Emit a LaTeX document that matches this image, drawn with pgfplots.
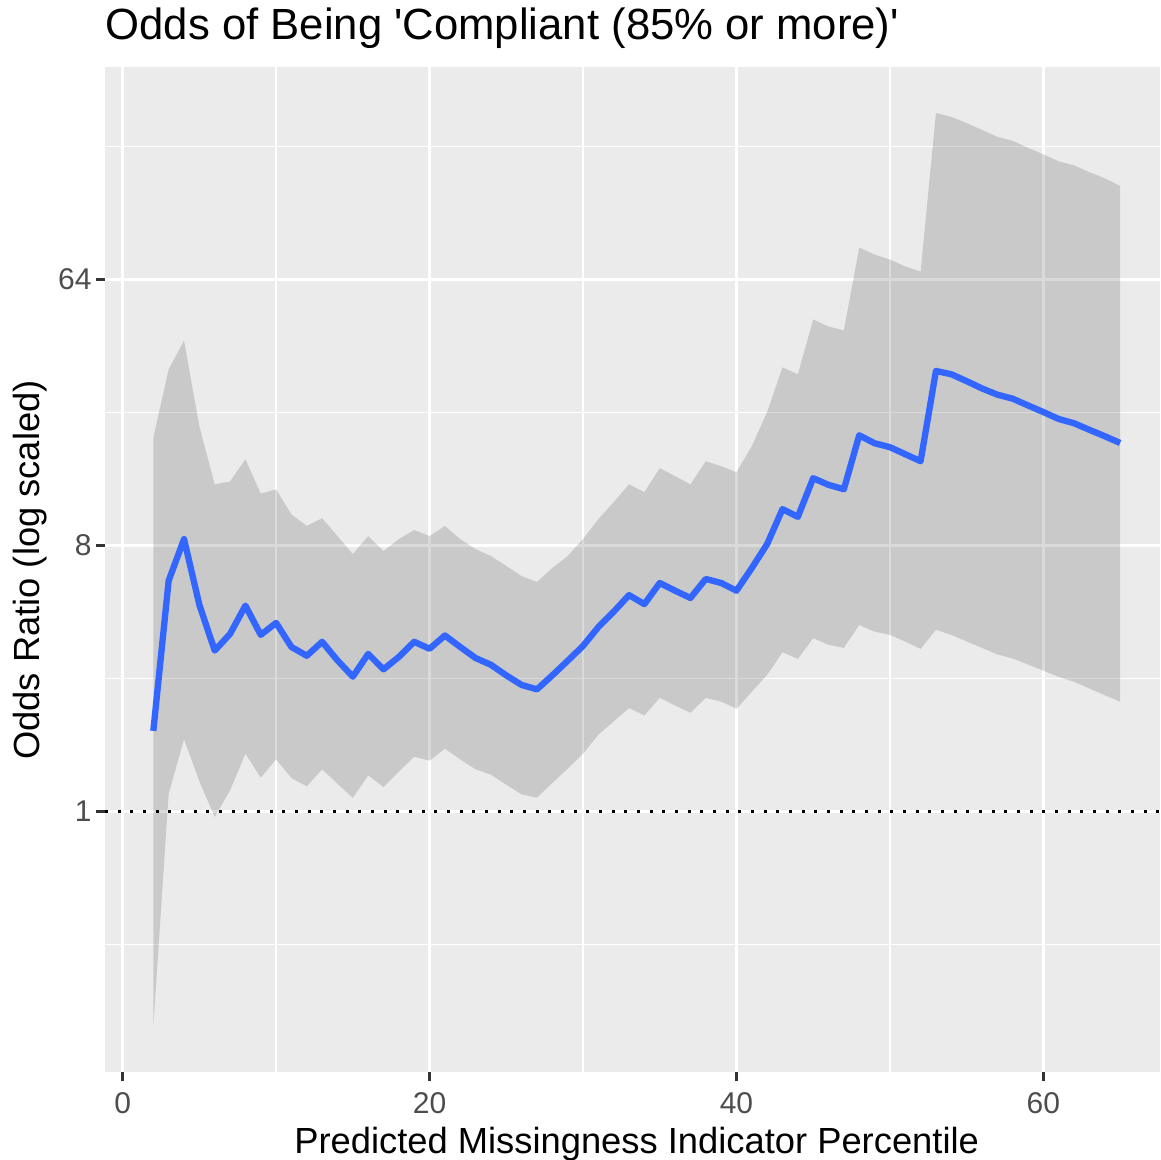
\documentclass[border=0pt]{standalone}
\usepackage{pgfplots}
\pgfplotsset{compat=1.18}
\usepackage{pgfplotstable}
\usepgfplotslibrary{fillbetween}
\usepackage{fontspec}
\setmainfont{Liberation Sans}[Ligatures=TeXOff]
\definecolor{panelbg}{RGB}{235,235,235}
\definecolor{ribbon}{RGB}{51,51,51}
\definecolor{lineblue}{RGB}{51,102,255}
\definecolor{tickcol}{RGB}{51,51,51}
\definecolor{ticklab}{RGB}{77,77,77}
\pgfplotstableread{
x lo est hi
2 0.187 1.88 18.6
3 1.151 6.08 31.7
4 1.758 8.41 39.7
5 1.267 5.03 20.3
6 0.959 3.52 12.9
7 1.181 4.01 13.2
8 1.572 5.00 15.7
9 1.304 3.98 12.0
10 1.504 4.37 12.4
11 1.300 3.62 10.2
12 1.218 3.38 9.32
13 1.391 3.77 9.90
14 1.244 3.26 8.61
15 1.113 2.87 7.48
16 1.328 3.43 8.61
17 1.212 3.04 7.66
18 1.366 3.35 8.41
19 1.536 3.77 9.03
20 1.489 3.57 8.61
21 1.635 3.96 9.32
22 1.504 3.62 8.41
23 1.391 3.32 7.78
24 1.335 3.15 7.37
25 1.234 2.90 6.82
26 1.144 2.69 6.30
27 1.115 2.60 6.02
28 1.251 2.90 6.71
29 1.398 3.25 7.37
30 1.572 3.65 8.41
31 1.824 4.23 9.83
32 2.023 4.77 11.23
33 2.246 5.43 12.9
34 2.120 5.06 12.14
35 2.434 5.97 14.64
36 2.291 5.62 13.75
37 2.165 5.31 12.9
38 2.43 6.16 15.46
39 2.364 5.97 14.87
40 2.233 5.62 14.19
41 2.550 6.71 17.38
42 2.912 8.09 22.7
43 3.475 10.63 32.2
44 3.30 10.01 30.5
45 3.877 13.54 46.8
46 3.680 12.85 44.3
47 3.595 12.42 43.0
48 4.30 18.93 82.1
49 4.08 17.79 77.7
50 3.98 17.25 74.8
51 3.776 16.33 70.8
52 3.567 15.46 68.1
53 4.14 31.3 235
54 3.98 30.5 228
55 3.78 28.9 217
56 3.595 27.3 206
57 3.417 26.0 195
58 3.309 25.2 189
59 3.156 23.9 179
60 3.008 22.7 170
61 2.866 21.5 161
62 2.757 20.8 156
63 2.617 19.76 148
64 2.485 18.8 141
65 2.359 17.83 133
}\ortable
\begin{document}
\begin{tikzpicture}
\begin{axis}[
  at={(0,0)}, anchor=south west,
  scale only axis,
  width=316.5pt, height=301.5pt,
  xmin=-1.15, xmax=67.6,
  ymode=log, log basis y=2,
  ymin=0.1307, ymax=336.6,
  axis background/.style={fill=panelbg},
  axis line style={draw=none},
  xtick={0,20,40,60},
  minor xtick={10,30,50},
  ytick={1,8,64},
  yticklabels={1,8,64},
  extra y ticks={0.35355,2.8284,22.627,181.02},
  extra y tick labels={},
  extra y tick style={major tick length=0pt, grid=major, major grid style={white, line width=0.45pt}},
  xmajorgrids, xminorgrids, ymajorgrids,
  major grid style={white, line width=0.9pt},
  minor grid style={white, line width=0.45pt},
  tick align=outside,
  major tick length=2.7pt,
  minor tick length=0pt,
  xtick pos=lower, ytick pos=left,
  tick style={color=tickcol, line width=0.75pt},
  /pgf/number format/assume math mode=true,
  tick label style={font=\fontsize{9}{10}\selectfont, text=ticklab},
  yticklabel style={xshift=2.2pt},
  clip=true,
]
\addplot[name path=hi, draw=none, forget plot] table[x=x, y=hi] {\ortable};
\addplot[name path=lo, draw=none, forget plot] table[x=x, y=lo] {\ortable};
\addplot[fill=ribbon, fill opacity=0.18, draw=none] fill between[of=hi and lo];
\addplot[color=lineblue, line width=1.9pt, line join=round, mark=none] table[x=x, y=est] {\ortable};
\addplot[black, line width=0.9pt, dash pattern=on 0.9pt off 2.9pt, mark=none] coordinates {(-1.15,1) (67.6,1)};
\end{axis}
\node[anchor=base west, inner sep=0, font=\fontsize{13.1}{15}\selectfont] at (0pt,309.6pt) {Odds of Being 'Compliant (85\% or more)'};
\node[anchor=base, inner sep=0, font=\fontsize{10.9}{12}\selectfont] at (159.5pt,-24.3pt) {Predicted Missingness Indicator Percentile};
\node[anchor=base, inner sep=0, rotate=90, font=\fontsize{10.9}{12}\selectfont] at (-19.5pt,150.6pt) {Odds Ratio (log scaled)};
\pgfresetboundingbox
\path[use as bounding box] (-31.5pt,-26.4pt) rectangle (316.5pt,321.6pt);
\end{tikzpicture}
\end{document}
